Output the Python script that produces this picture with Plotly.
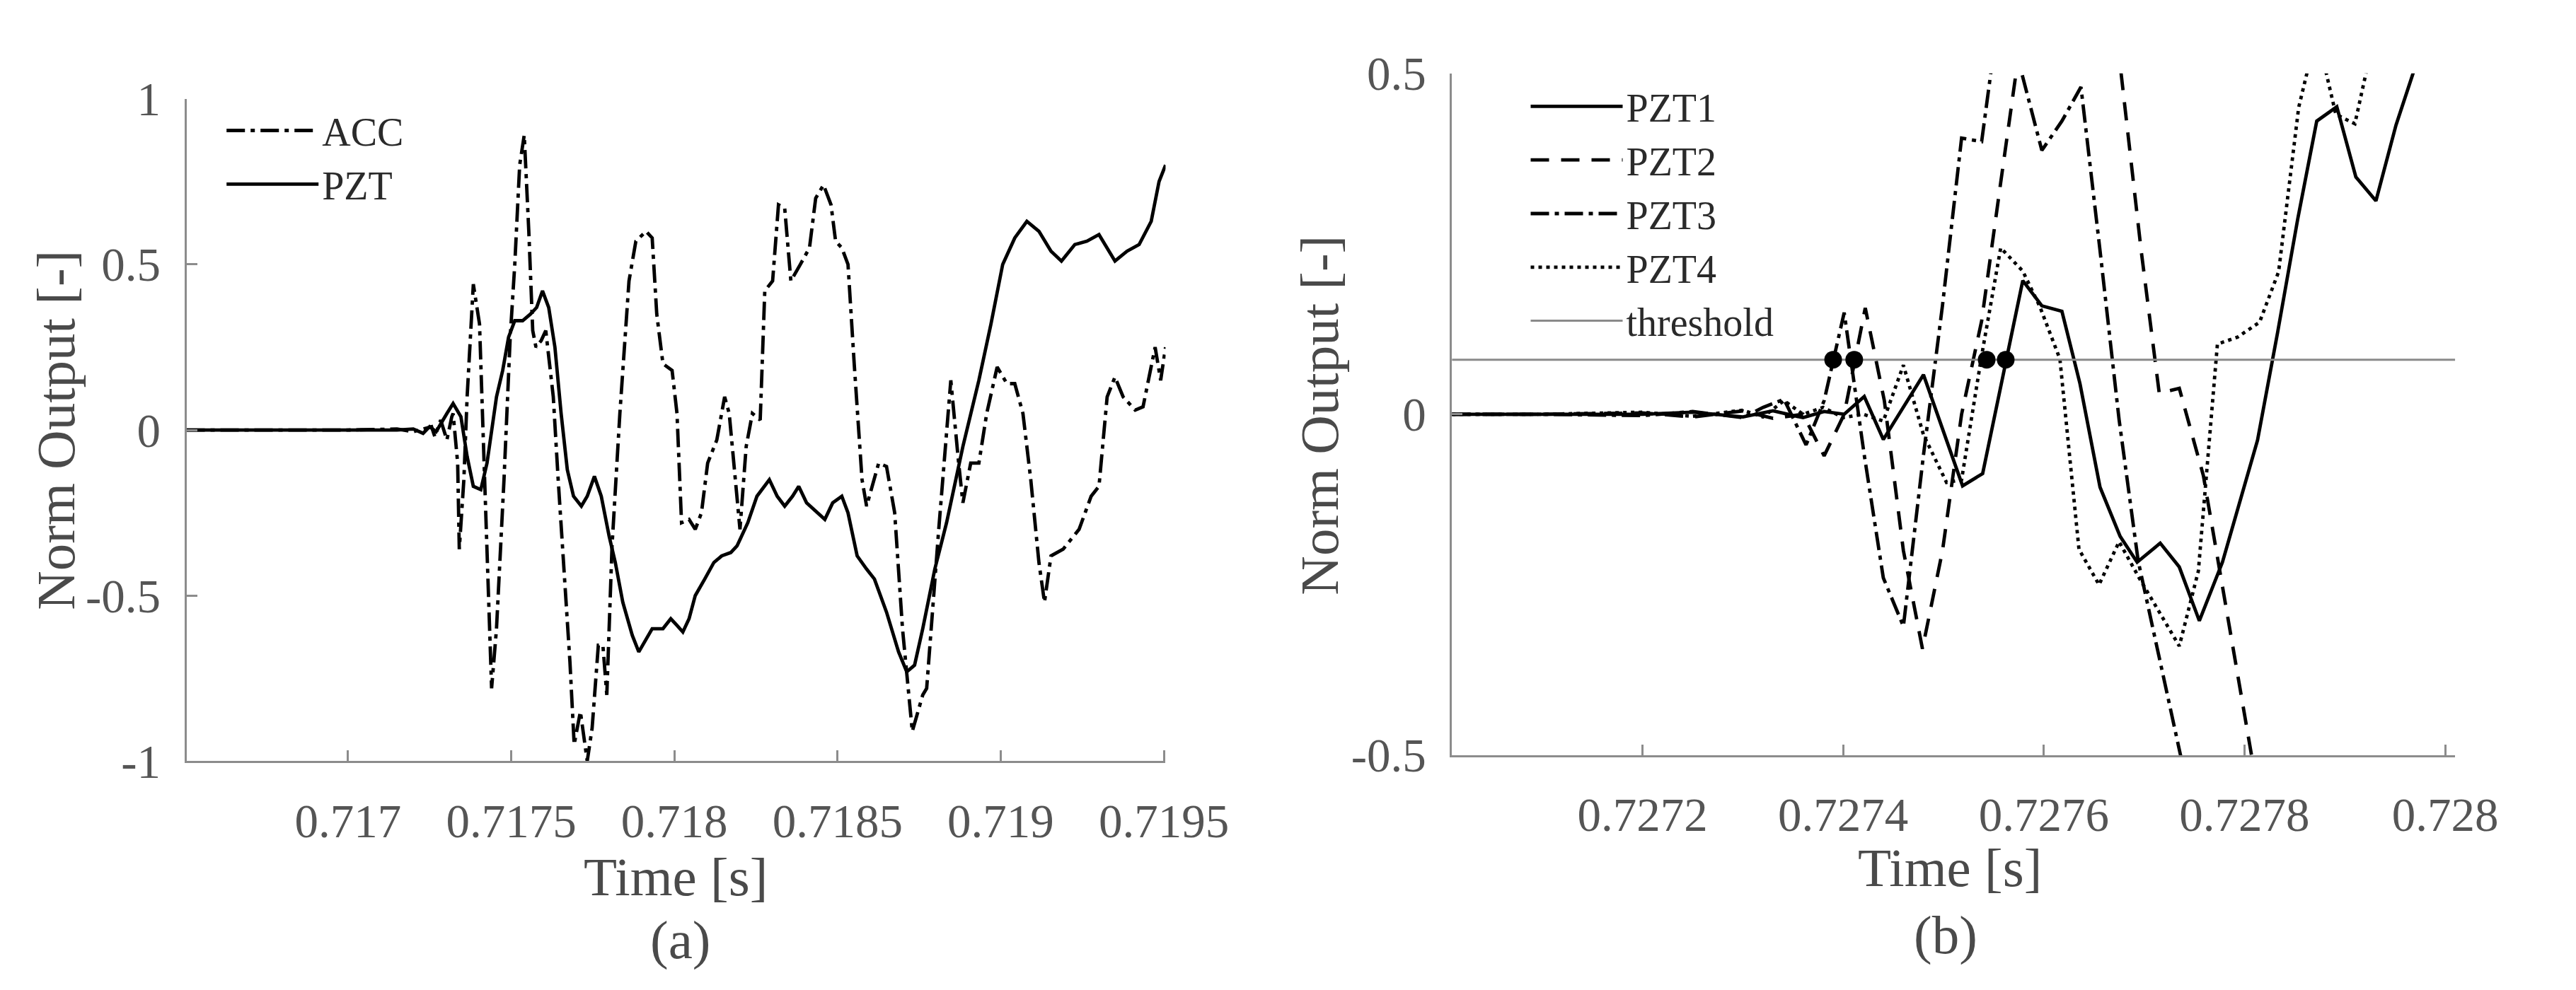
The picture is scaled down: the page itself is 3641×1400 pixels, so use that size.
import plotly.graph_objects as go

# ---------------- Panel (a) data ----------------
acc_t = [0.716505, 0.7168, 0.7170, 0.71715, 0.71720, 0.717256, 0.717266, 0.717284, 0.717303, 0.717318,
         0.717322, 0.717336, 0.717341, 0.717355, 0.717365, 0.717384, 0.717403, 0.717417, 0.717440, 0.717455,
         0.717478, 0.717497, 0.717511, 0.717526, 0.717540, 0.717554, 0.717566, 0.717576, 0.717592, 0.717606,
         0.717629, 0.717644, 0.717663, 0.717680, 0.717693, 0.717712, 0.717733, 0.717748, 0.717767, 0.717781,
         0.717793, 0.717809, 0.717833, 0.717861, 0.717882, 0.717913, 0.717932, 0.717946, 0.717965, 0.717993,
         0.718008, 0.718022, 0.718045, 0.718064, 0.718083, 0.718102, 0.718130, 0.718154, 0.718168, 0.718187,
         0.718201, 0.718220, 0.718239, 0.718263, 0.718277, 0.718301, 0.718319, 0.718338, 0.718357, 0.718386,
         0.718414, 0.718433, 0.718457, 0.718480, 0.718494, 0.718513, 0.718532, 0.718551, 0.718575, 0.718589,
         0.718626, 0.718650, 0.718675, 0.718699, 0.718729, 0.718761, 0.718773, 0.718810, 0.718847, 0.718871,
         0.718884, 0.718908, 0.718933, 0.718957, 0.718989, 0.719019, 0.719043, 0.719068, 0.719092, 0.719117,
         0.719134, 0.719154, 0.719191, 0.719240, 0.719277, 0.719301, 0.719326, 0.719350, 0.719375, 0.719412,
         0.719436, 0.719473, 0.719490, 0.719505]
acc_v = [0.0, 0.0, 0.0, 0.003, -0.005, 0.01, -0.02, 0.03, -0.03, 0.04,
         0.05, -0.1, -0.36, -0.15, 0.1, 0.44, 0.32, -0.1, -0.78, -0.6,
         -0.15, 0.28, 0.5, 0.8, 0.89, 0.6, 0.3, 0.25, 0.27, 0.3,
         0.1, -0.15, -0.45, -0.7, -0.95, -0.85, -1.0, -0.9, -0.65, -0.65,
         -0.8, -0.35, 0.05, 0.45, 0.57, 0.6, 0.58, 0.35, 0.2, 0.18,
         0.05, -0.28, -0.27, -0.3, -0.25, -0.1, -0.03, 0.1, 0.05, -0.15,
         -0.3, -0.05, 0.05, 0.03, 0.42, 0.45, 0.68, 0.67, 0.45, 0.5,
         0.55, 0.7, 0.74, 0.68, 0.57, 0.55, 0.5, 0.2, -0.15, -0.23,
         -0.1, -0.11, -0.25, -0.6, -0.91, -0.8, -0.78, -0.3, 0.15, -0.1,
         -0.22, -0.1, -0.1, 0.05, 0.19, 0.14, 0.14, 0.05, -0.15, -0.4,
         -0.52, -0.38, -0.36, -0.3, -0.2, -0.17, 0.1, 0.16, 0.1, 0.06,
         0.07, 0.25, 0.15, 0.25]

pzt_t = [0.716505, 0.7168, 0.7170, 0.71715, 0.71720, 0.71723, 0.71725, 0.71727, 0.717303, 0.717322,
         0.717346, 0.717365, 0.717384, 0.717407, 0.717426, 0.717455, 0.717474, 0.717492, 0.717511, 0.717535,
         0.717559, 0.717578, 0.717596, 0.717615, 0.717634, 0.717653, 0.717672, 0.717691, 0.717715, 0.717733,
         0.717755, 0.717776, 0.717800, 0.717819, 0.717842, 0.717871, 0.717891, 0.717908, 0.717932, 0.717965,
         0.717989, 0.718008, 0.718026, 0.718045, 0.718064, 0.718093, 0.718121, 0.718145, 0.718173, 0.718192,
         0.718225, 0.718253, 0.718291, 0.718315, 0.718338, 0.718362, 0.718381, 0.718405, 0.718428, 0.718461,
         0.718485, 0.718513, 0.718532, 0.718560, 0.718589, 0.718613, 0.718650, 0.718687, 0.718712, 0.718736,
         0.718761, 0.718798, 0.718834, 0.718884, 0.718933, 0.718970, 0.719006, 0.719043, 0.719080, 0.719117,
         0.719154, 0.719186, 0.719227, 0.719264, 0.719301, 0.719350, 0.719387, 0.719424, 0.719461, 0.719485,
         0.719505]
pzt_v = [0.0, 0.0, 0.0, 0.0, 0.003, -0.01, 0.01, -0.005, 0.05, 0.08,
         0.04, -0.08, -0.17, -0.18, -0.1, 0.1, 0.18, 0.28, 0.33, 0.33,
         0.35, 0.37, 0.42, 0.37, 0.25, 0.05, -0.12, -0.2, -0.23, -0.2,
         -0.14, -0.2, -0.32, -0.4, -0.52, -0.62, -0.67, -0.64, -0.6, -0.6,
         -0.57, -0.59, -0.61, -0.57, -0.5, -0.45, -0.4, -0.38, -0.37, -0.35,
         -0.28, -0.2, -0.15, -0.2, -0.23, -0.2, -0.17, -0.22, -0.24, -0.27,
         -0.22, -0.2, -0.25, -0.38, -0.42, -0.45, -0.55, -0.67, -0.73, -0.71,
         -0.6, -0.42, -0.28, -0.05, 0.15, 0.32, 0.5, 0.58, 0.63, 0.6,
         0.54, 0.51, 0.56, 0.57, 0.59, 0.51, 0.54, 0.56, 0.63, 0.75,
         0.8]

xa_range = [0.716505, 0.719505]
ya_range = [-1, 1]
xa_ticks = [0.717, 0.7175, 0.718, 0.7185, 0.719, 0.7195]
xa_text = ["0.717", "0.7175", "0.718", "0.7185", "0.719", "0.7195"]
ya_ticks = [-1, -0.5, 0, 0.5, 1]
ya_text = ["-1", "-0.5", "0", "0.5", "1"]

# ---------------- Panel (b) data ----------------
pzt1_t = [0.72701, 0.7271, 0.7272, 0.72725, 0.7273, 0.72733, 0.72736, 0.727381, 0.727401, 0.727421,
          0.72744, 0.72748, 0.727519, 0.727539, 0.727579, 0.727598, 0.727618, 0.727636, 0.727656, 0.727676,
          0.727693, 0.727716, 0.727735, 0.727755, 0.727778, 0.727813, 0.727833, 0.727853, 0.727872, 0.727892,
          0.727911, 0.727931, 0.727951, 0.727968, 0.727988]
pzt1_v = [0.0, 0.0, 0.0, 0.003, -0.004, 0.005, -0.005, 0.004, 0.0, 0.026,
          -0.037, 0.058, -0.105, -0.087, 0.196, 0.159, 0.151, 0.045, -0.107, -0.179,
          -0.217, -0.189, -0.224, -0.303, -0.217, -0.038, 0.12, 0.286, 0.43, 0.451,
          0.348, 0.313, 0.424, 0.5, 0.6]

pzt2_t = [0.72701, 0.7271, 0.7272, 0.72725, 0.7273, 0.72733, 0.72736, 0.727381, 0.727401, 0.727422,
          0.727441, 0.72746, 0.727479, 0.727499, 0.727518, 0.727538, 0.727557, 0.727577, 0.727597, 0.727657,
          0.727677, 0.727697, 0.727715, 0.727735, 0.727759, 0.727807, 0.727827]
pzt2_v = [0.0, 0.0, 0.002, -0.004, 0.005, -0.006, 0.0, -0.061, 0.0, 0.156,
          0.02, -0.2, -0.344, -0.2, 0.0, 0.137, 0.34, 0.55, 0.68, 0.72,
          0.5, 0.24, 0.031, 0.038, -0.09, -0.5, -0.65]

pzt3_t = [0.72701, 0.7271, 0.7272, 0.72725, 0.7273, 0.72732, 0.727341, 0.727363, 0.727381, 0.727401,
          0.727421, 0.72744, 0.72746, 0.72748, 0.727499, 0.727518, 0.727538, 0.727558, 0.727578, 0.727598,
          0.727618, 0.727637, 0.727656, 0.727675, 0.727694, 0.727714, 0.727734, 0.727754]
pzt3_v = [0.0, 0.0, -0.002, 0.004, -0.005, 0.01, 0.022, -0.045, 0.02, 0.149,
          -0.06, -0.24, -0.311, -0.06, 0.16, 0.405, 0.40, 0.62, 0.5, 0.387,
          0.43, 0.48, 0.24, -0.008, -0.215, -0.35, -0.48, -0.62]

pzt4_t = [0.72701, 0.7271, 0.7272, 0.72725, 0.7273, 0.72732, 0.727341, 0.72736, 0.72738, 0.7274,
          0.72742, 0.72744, 0.72746, 0.72748, 0.727503, 0.727518, 0.727538, 0.727557, 0.727579, 0.727596,
          0.727616, 0.727635, 0.727655, 0.727675, 0.727695, 0.727715, 0.727735, 0.727754, 0.727773, 0.727793,
          0.727815, 0.727834, 0.727854, 0.727872, 0.727891, 0.72791, 0.72793]
pzt4_v = [0.0, 0.0, 0.003, -0.003, 0.006, -0.004, 0.02, 0.0, 0.01, -0.005,
          0.0, -0.01, 0.072, -0.03, -0.1, -0.096, 0.086, 0.244, 0.21, 0.158,
          0.081, -0.198, -0.25, -0.187, -0.24, -0.29, -0.34, -0.23, 0.103, 0.113,
          0.135, 0.209, 0.45, 0.56, 0.44, 0.426, 0.56]

threshold = 0.08
detect_t = [0.72739, 0.727411, 0.727543, 0.727562]

xb_range = [0.72701, 0.72801]
yb_range = [-0.5, 0.5]
xb_ticks = [0.7272, 0.7274, 0.7276, 0.7278, 0.728]
xb_text = ["0.7272", "0.7274", "0.7276", "0.7278", "0.728"]
yb_ticks = [-0.5, 0, 0.5]
yb_text = ["-0.5", "0", "0.5"]

# ---------------- styling ----------------
W, H = 3641, 1400
SERIF = "Liberation Serif, Times New Roman, serif"
TICK_C = "#555555"
TITLE_C = "#4a4a4a"
AX_C = "#8c8c8c"
LW = 4.8
DASH = "26px,17px"
DASHDOT = "26px,8px,6px,8px"
DOT = "5px,6px"
LEG_FONT = dict(family=SERIF, size=56, color="#2a2a2a")

fig = go.Figure()

fig.add_trace(go.Scatter(x=acc_t, y=acc_v, mode="lines", name="ACC",
                         line=dict(color="black", width=LW, dash=DASHDOT),
                         xaxis="x", yaxis="y", legend="legend"))
fig.add_trace(go.Scatter(x=pzt_t, y=pzt_v, mode="lines", name="PZT",
                         line=dict(color="black", width=LW),
                         xaxis="x", yaxis="y", legend="legend"))

fig.add_trace(go.Scatter(x=pzt1_t, y=pzt1_v, mode="lines", name="PZT1",
                         line=dict(color="black", width=LW),
                         xaxis="x2", yaxis="y2", legend="legend2"))
fig.add_trace(go.Scatter(x=pzt2_t, y=pzt2_v, mode="lines", name="PZT2",
                         line=dict(color="black", width=LW, dash=DASH),
                         xaxis="x2", yaxis="y2", legend="legend2"))
fig.add_trace(go.Scatter(x=pzt3_t, y=pzt3_v, mode="lines", name="PZT3",
                         line=dict(color="black", width=LW, dash=DASHDOT),
                         xaxis="x2", yaxis="y2", legend="legend2"))
fig.add_trace(go.Scatter(x=pzt4_t, y=pzt4_v, mode="lines", name="PZT4",
                         line=dict(color="black", width=LW, dash=DOT),
                         xaxis="x2", yaxis="y2", legend="legend2"))
fig.add_trace(go.Scatter(x=xb_range, y=[threshold, threshold], mode="lines", name="threshold",
                         line=dict(color="#8a8a8a", width=3),
                         xaxis="x2", yaxis="y2", legend="legend2"))
fig.add_trace(go.Scatter(x=detect_t, y=[threshold] * len(detect_t), mode="markers",
                         marker=dict(color="black", size=25), showlegend=False,
                         xaxis="x2", yaxis="y2"))

def axis_common():
    return dict(showline=True, linecolor=AX_C, linewidth=3, mirror=False,
                ticks="inside", ticklen=15, tickwidth=3, tickcolor=AX_C,
                showgrid=False, zeroline=False,
                tickfont=dict(family=SERIF, size=67, color=TICK_C))

fig.update_layout(
    width=W, height=H,
    margin=dict(l=0, r=0, t=0, b=0),
    paper_bgcolor="white", plot_bgcolor="white",
    xaxis=dict(domain=[262 / W, 1681 / W], range=xa_range, tickmode="array",
               tickvals=xa_ticks, ticktext=xa_text, anchor="y", ticklabelstandoff=24,
               **axis_common()),
    yaxis=dict(domain=[1 - 1089 / H, 1 - 100 / H], range=ya_range, tickmode="array",
               tickvals=ya_ticks, ticktext=ya_text, anchor="x", ticklabelstandoff=20,
               **axis_common()),
    xaxis2=dict(domain=[2096 / W, 3550 / W], range=xb_range, tickmode="array",
                tickvals=xb_ticks, ticktext=xb_text, anchor="y2", ticklabelstandoff=24,
                **axis_common()),
    yaxis2=dict(domain=[1 - 1080 / H, 1 - 62 / H], range=yb_range, tickmode="array",
                tickvals=yb_ticks, ticktext=yb_text, anchor="x2", ticklabelstandoff=20,
                **axis_common()),
    legend=dict(x=315 / W, y=1 - 102 / H, xanchor="left", yanchor="top",
                bgcolor="rgba(0,0,0,0)", borderwidth=0, itemwidth=130,
                font=LEG_FONT, tracegroupgap=0),
    legend2=dict(x=2205 / W, y=1 - 66 / H, xanchor="left", yanchor="top",
                 bgcolor="rgba(0,0,0,0)", borderwidth=0, itemwidth=130,
                 font=LEG_FONT, tracegroupgap=0),
    showlegend=True,
)

ann_font = dict(family=SERIF, size=77, color=TITLE_C)
fig.add_annotation(text="Time [s]", x=971 / W, y=1 - 1262 / H, xref="paper", yref="paper",
                   showarrow=False, font=ann_font, xanchor="center", yanchor="middle")
fig.add_annotation(text="(a)", x=978 / W, y=1 - 1356 / H, xref="paper", yref="paper",
                   showarrow=False, font=ann_font, xanchor="center", yanchor="middle")
fig.add_annotation(text="Time [s]", x=2818 / W, y=1 - 1248 / H, xref="paper", yref="paper",
                   showarrow=False, font=ann_font, xanchor="center", yanchor="middle")
fig.add_annotation(text="(b)", x=2812 / W, y=1 - 1348 / H, xref="paper", yref="paper",
                   showarrow=False, font=ann_font, xanchor="center", yanchor="middle")
fig.add_annotation(text="Norm Output [-]", x=72 / W, y=1 - 595 / H, xref="paper", yref="paper",
                   showarrow=False, font=ann_font, textangle=-90, xanchor="center", yanchor="middle")
fig.add_annotation(text="Norm Output [-]", x=1904 / W, y=1 - 572 / H, xref="paper", yref="paper",
                   showarrow=False, font=ann_font, textangle=-90, xanchor="center", yanchor="middle")

fig.write_html("out.html")
